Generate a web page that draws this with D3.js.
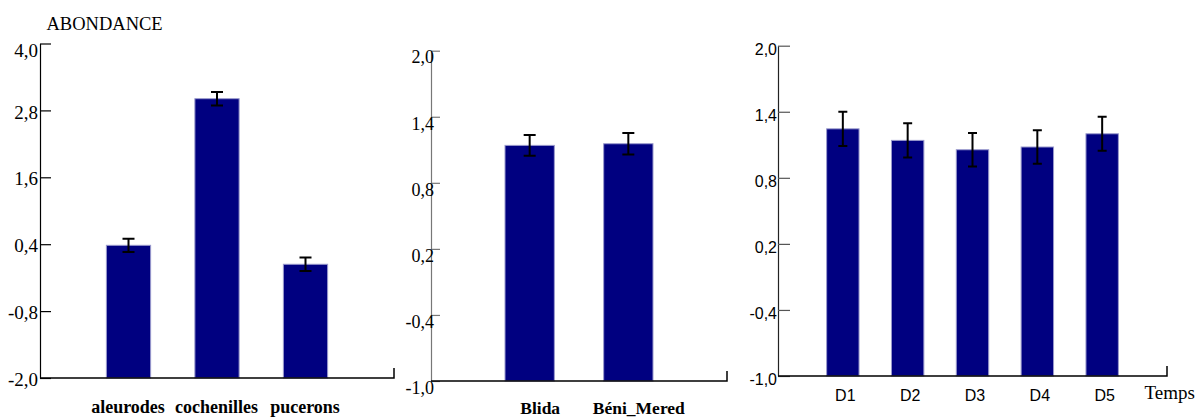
<!DOCTYPE html>
<html>
<head>
<meta charset="utf-8">
<script src="https://cdn.jsdelivr.net/npm/d3@7"></script>
<style>
  html, body { margin: 0; padding: 0; background: #fff; }
  svg { display: block; }
</style>
</head>
<body>
<svg id="chart" width="1201" height="417"></svg>
<script>
// ---- Data ----
const insectCategories = ["aleurodes", "cochenilles", "pucerons"];
const insectMeans = [0.38, 3.01, 0.04];
const insectErrors = [0.12, 0.12, 0.12];
const insectTicks = [-2.0, -0.8, 0.4, 1.6, 2.8, 4.0];

const siteCategories = ["Blida", "Béni_Mered"];
const siteMeans = [1.14, 1.155];
const siteErrors = [0.095, 0.097];
const siteTicks = [-1.0, -0.4, 0.2, 0.8, 1.4, 2.0];

const timeCategories = ["D1", "D2", "D3", "D4", "D5"];
const timeMeans = [1.245, 1.14, 1.055, 1.08, 1.20];
const timeErrors = [0.155, 0.155, 0.153, 0.153, 0.154];
const timeTicks = [-1.0, -0.4, 0.2, 0.8, 1.4, 2.0];

const yTitle = "ABONDANCE";
const xTitle3 = "Temps";

// ---- Drawing ----
const svg = d3.select("#chart");
const fmt = v => v.toFixed(1).replace(".", ",");
const SERIF = '"Liberation Serif"';
const SANS = '"Liberation Sans"';

function panel(cfg) {
  const g = svg.append("g");
  const y = d3.scaleLinear().domain(cfg.domain).range([cfg.yBottom, cfg.yTop]);
  const x = d3.scalePoint().domain(cfg.categories).range([cfg.xLeft, cfg.xRight]).padding(1);
  const bw = x.step() * 0.5;

  // y axis
  const ya = g.append("g")
    .attr("transform", `translate(${cfg.xLeft},0)`)
    .call(d3.axisLeft(y).tickValues(cfg.ticks).tickFormat(fmt)
      .tickSize(-cfg.tickLen).tickSizeOuter(0).tickPadding(cfg.tickPad));
  ya.attr("font-family", null).attr("font-size", null);
  ya.select(".domain").attr("stroke", cfg.yAxisColor).attr("stroke-width", 1.2);
  ya.selectAll(".tick line").attr("stroke", cfg.tickColor).attr("stroke-width", 1.2);
  ya.selectAll(".tick text")
    .style("font-family", cfg.tickFont)
    .style("font-size", cfg.tickFontSize + "px")
    .attr("fill", "#000")
    .attr("dy", cfg.tickDy)
    .attr("transform", d => d === cfg.domain[1] ? `translate(0,${cfg.topExtra})` : null);

  // x axis (no ticks; labels)
  const xa = g.append("g")
    .attr("transform", `translate(0,${cfg.yBottom})`)
    .call(d3.axisBottom(x).tickSize(0).tickSizeOuter(0).tickPadding(0));
  xa.attr("font-family", null).attr("font-size", null);
  xa.select(".domain").remove();
  xa.selectAll(".tick text")
    .style("font-family", cfg.xFont)
    .style("font-size", cfg.xFontSize + "px")
    .style("font-weight", cfg.xBold ? "bold" : "normal")
    .attr("fill", "#000")
    .attr("dy", 0)
    .attr("y", cfg.xLabelY)
    .attr("x", cfg.xLabelDx);

  // bars
  g.append("g").selectAll("rect")
    .data(cfg.categories.map((c, i) => ({ c, v: cfg.means[i], e: cfg.errors[i] })))
    .join("rect")
    .attr("x", d => x(d.c) - bw / 2)
    .attr("y", d => y(d.v))
    .attr("width", bw)
    .attr("height", d => y(cfg.domain[0]) - y(d.v))
    .attr("fill", "#000080")
    .attr("stroke", "#9a9acd")
    .attr("stroke-width", 1);

  // x axis baseline + end tick
  const [r0, r1] = x.range();
  g.append("path")
    .attr("d", `M${r0},${cfg.yBottom}H${r1}V${cfg.yBottom - 10}`)
    .attr("fill", "none").attr("stroke", "#000").attr("stroke-width", 1.5);

  // error bars
  const eb = g.append("g").attr("stroke", "#000").attr("stroke-width", 2).attr("fill", "none");
  cfg.categories.forEach((c, i) => {
    const cx = x(c), hi = y(cfg.means[i] + cfg.errors[i]), lo = y(cfg.means[i] - cfg.errors[i]);
    const cw = cfg.capW / 2;
    eb.append("path").attr("d", `M${cx},${hi}V${lo}M${cx - cw},${hi}H${cx + cw}M${cx - cw},${lo}H${cx + cw}`);
  });
  return { g, x, y };
}

panel({
  categories: insectCategories, means: insectMeans, errors: insectErrors, ticks: insectTicks,
  domain: [-2, 4], yTop: 43.5, yBottom: 378, xLeft: 40, xRight: 394,
  tickLen: 11, tickPad: 2, tickFont: SERIF, tickFontSize: 19, tickDy: "0.4em", topExtra: 5,
  yAxisColor: "#000", tickColor: "#000",
  xFont: SERIF, xFontSize: 18, xBold: true, xLabelY: 35, xLabelDx: -1, capW: 12
});

panel({
  categories: siteCategories, means: siteMeans, errors: siteErrors, ticks: siteTicks,
  domain: [-1, 2], yTop: 50.7, yBottom: 381, xLeft: 431, xRight: 727,
  tickLen: 9, tickPad: -3, tickFont: SERIF, tickFontSize: 18, tickDy: "0.68em", topExtra: 0,
  yAxisColor: "#777", tickColor: "#777",
  xFont: SERIF, xFontSize: 17.5, xBold: true, xLabelY: 32.5, xLabelDx: 10, capW: 12
});

const p3 = panel({
  categories: timeCategories, means: timeMeans, errors: timeErrors, ticks: timeTicks,
  domain: [-1, 2], yTop: 45.7, yBottom: 376, xLeft: 778, xRight: 1167,
  tickLen: 12, tickPad: 1, tickFont: SANS, tickFontSize: 16, tickDy: "0.55em", topExtra: 0,
  yAxisColor: "#222", tickColor: "#555",
  xFont: SANS, xFontSize: 16, xBold: false, xLabelY: 24.7, xLabelDx: 2, capW: 9
});

// titles
svg.append("text")
  .style("font-family", SERIF)
  .attr("x", 46.5).attr("y", 29.5)
  .style("font-size", "18.5px")
  .text(yTitle);

svg.append("text")
  .style("font-family", SERIF)
  .attr("x", p3.x.range()[1] - 22.5).attr("y", 398.5)
  .style("font-size", "19px")
  .text(xTitle3);
</script>
</body>
</html>
